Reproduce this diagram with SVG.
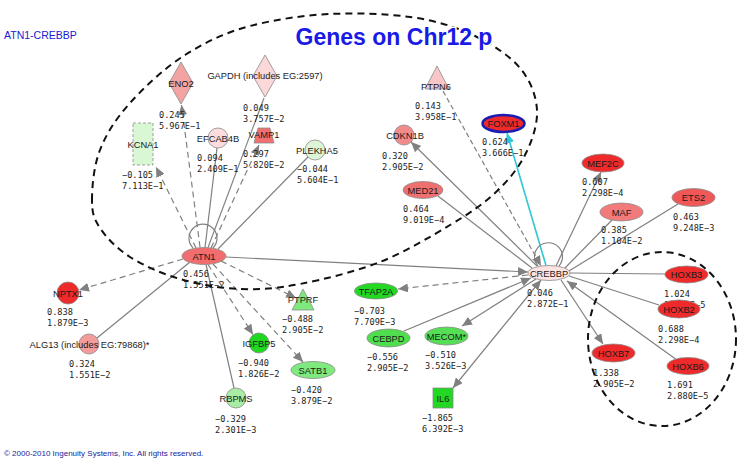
<svg xmlns="http://www.w3.org/2000/svg" width="743" height="466" viewBox="0 0 743 466">
<style>
.lbl{font-family:"Liberation Sans",Arial,sans-serif;font-size:9.3px;fill:#1a1a1a;text-anchor:middle}
.val{font-family:"DejaVu Sans Mono",monospace;font-size:8.6px;fill:#222}
.n{stroke:#8a8a8a;stroke-width:0.8}
.e{stroke:#808080;stroke-width:1.2;fill:none}
.d{stroke-dasharray:6 4}
.grp{fill:none;stroke:#111;stroke-width:2;stroke-dasharray:7 5}
</style>
<defs>
<marker id="ah" viewBox="0 0 10 9" refX="10" refY="4.5" markerWidth="10" markerHeight="9" markerUnits="userSpaceOnUse" orient="auto-start-reverse"><path d="M0,0 L10,4.5 L0,9 z" fill="#808080"/></marker>
<marker id="ahc" viewBox="0 0 10 9" refX="10" refY="4.5" markerWidth="10" markerHeight="9" markerUnits="userSpaceOnUse" orient="auto"><path d="M0,0 L10,4.5 L0,9 z" fill="#2cc8d8"/></marker>
</defs>
<rect width="743" height="466" fill="#fff"/>
<text x="4" y="39" font-family="Liberation Sans,Arial,sans-serif" font-size="10.5" fill="#2020d0">ATN1-CREBBP</text>

<g id="connectors">
<path class="e d" d="M200,247 L181.5,105" marker-end="url(#ah)"/>
<path class="e" d="M208,247.5 L264,98"/>
<path class="e" d="M205,247.5 L217,148"/>
<path class="e d" d="M211,248 L259,145" marker-end="url(#ah)"/>
<path class="e d" d="M196,248 L156,167" marker-end="url(#ah)"/>
<path class="e" d="M218,249 L308,157"/>
<path class="e d" d="M183,259 L79,290" marker-end="url(#ah)"/>
<path class="e" d="M190,262 L97,338"/>
<path class="e d" d="M208,264.5 L253,334.5" marker-end="url(#ah)"/>
<path class="e d" d="M213,264 L303,362" marker-end="url(#ah)"/>
<path class="e d" d="M221,261 L296,298" marker-end="url(#ah)"/>
<path class="e" d="M206,264.5 L234,388"/>
<path class="e" d="M226,257 L528,272" marker-end="url(#ah)"/>
<path class="e" d="M193,248 A14,14 0 1 1 213,248"/>
<path d="M546,265.5 L507,133" stroke="#2cc8d8" stroke-width="1.6" fill="none" marker-end="url(#ahc)"/>
<path class="e" d="M537,266 L411,142" marker-end="url(#ah)"/>
<path class="e" d="M443,91 L541,266" stroke-width="1" stroke-dasharray="5 3" marker-end="url(#ah)"/>
<path class="e" d="M438,196 L532,268"/>
<path class="e" d="M556,266 L601,172" marker-end="url(#ah)"/>
<path class="e" d="M612,220 L565,268"/>
<path class="e" d="M678,204 L569,271"/>
<path class="e d" d="M528,275 L398,289" marker-end="url(#ah)"/>
<path class="e" d="M404,331 L531,278" marker-end="url(#ah)"/>
<path class="e" d="M536,279 L462,326" marker-end="url(#ah)"/>
<path class="e" d="M453,388 L541,280" marker-start="url(#ah)" marker-end="url(#ah)"/>
<path class="e" d="M570,273 L665,274"/>
<path class="e" d="M569,276 L659,305"/>
<path class="e" d="M677,360 L567,281" marker-end="url(#ah)"/>
<path class="e" d="M561,280 L603,344" marker-end="url(#ah)"/>
<path class="e" d="M538,266 A14,14 0 1 1 559,266"/>
</g>

<g id="ATN1"><ellipse class="n" cx="204" cy="256" rx="22" ry="8.5" fill="#f26d6d"/><text class="lbl" x="204" y="259.5">ATN1</text><text class="val" x="183" y="277">0.456<tspan x="183" dy="11">1.551E−2</tspan></text></g>
<g id="ENO2"><polygon class="n" points="181,62 193,83 181,104 169,83" fill="#f4a3a3"/><text class="lbl" x="181" y="86.5">ENO2</text><text class="val" x="159" y="118">0.245<tspan x="159" dy="11">5.967E−1</tspan></text></g>
<g id="GAPDH"><polygon class="n" points="265,55 277,76 265,97 253,76" fill="#fbd9d9"/><text class="lbl" x="265" y="78.5">GAPDH (includes EG:2597)</text><text class="val" x="243" y="111">0.049<tspan x="243" dy="11">3.757E−2</tspan></text></g>
<g id="EFCAB4B"><circle class="n" cx="218" cy="138" r="10" fill="#fcdcdc"/><text class="lbl" x="218" y="141.5">EFCAB4B</text><text class="val" x="197" y="161">0.094<tspan x="197" dy="11">2.409E−1</tspan></text></g>
<g id="VAMP1"><polygon class="n" points="258,128 270,128 274,143 254,143" fill="#f26f6f"/><text class="lbl" x="264" y="138">VAMP1</text><text class="val" x="243" y="157">0.297<tspan x="243" dy="11">5.820E−2</tspan></text></g>
<g id="KCNA1"><rect x="133" y="123" width="20" height="42" fill="#daf7d5" stroke="#8a8a8a" stroke-width="0.8" stroke-dasharray="3 2"/><text class="lbl" x="143" y="148">KCNA1</text><text class="val" x="122" y="178">−0.105<tspan x="122" dy="11">7.113E−1</tspan></text></g>
<g id="PLEKHA5"><circle class="n" cx="315" cy="150" r="10" fill="#dcf5d6"/><text class="lbl" x="317" y="153.5">PLEKHA5</text><text class="val" x="297" y="172">−0.044<tspan x="297" dy="11">5.604E−1</tspan></text></g>
<g id="NPTX1"><circle class="n" cx="68" cy="293" r="11" fill="#ee2a2a"/><text class="lbl" x="68" y="296.5">NPTX1</text><text class="val" x="47" y="315">0.838<tspan x="47" dy="11">1.879E−3</tspan></text></g>
<g id="ALG13"><circle class="n" cx="89" cy="344" r="10" fill="#f49b9b"/><text class="lbl" x="89.5" y="347.5">ALG13 (includes EG:79868)*</text><text class="val" x="69" y="367">0.324<tspan x="69" dy="11">1.551E−2</tspan></text></g>
<g id="IGFBP5"><circle class="n" cx="259" cy="343" r="10" fill="#21d821"/><text class="lbl" x="259" y="346.5">IGFBP5</text><text class="val" x="238" y="366">−0.940<tspan x="238" dy="11">1.826E−2</tspan></text></g>
<g id="SATB1"><ellipse class="n" cx="313" cy="370" rx="22" ry="8.5" fill="#7ee97e"/><text class="lbl" x="313" y="373.5">SATB1</text><text class="val" x="291" y="393">−0.420<tspan x="291" dy="11">3.879E−2</tspan></text></g>
<g id="PTPRF"><polygon class="n" points="303,289 314,310 292,310" fill="#7ee97e"/><text class="lbl" x="303" y="303">PTPRF</text><text class="val" x="282" y="322">−0.488<tspan x="282" dy="11">2.905E−2</tspan></text></g>
<g id="RBPMS"><circle class="n" cx="236" cy="398" r="10" fill="#a8eda3"/><text class="lbl" x="236" y="401.5">RBPMS</text><text class="val" x="215" y="422">−0.329<tspan x="215" dy="11">2.301E−3</tspan></text></g>
<g id="CREBBP"><ellipse class="n" cx="549" cy="273" rx="21" ry="7.5" fill="#fde2e2"/><text class="lbl" x="549" y="276.5">CREBBP</text><text class="val" x="527" y="296">0.046<tspan x="527" dy="11">2.872E−1</tspan></text></g>
<g id="FOXM1"><ellipse cx="503.5" cy="123.5" rx="21" ry="8.5" fill="#ee2a2a" stroke="#1c1cb4" stroke-width="2.5"/><text class="lbl" x="503.5" y="127">FOXM1</text><text class="val" x="482" y="145">0.624<tspan x="482" dy="11">3.666E−1</tspan></text></g>
<g id="CDKN1B"><circle class="n" cx="404" cy="135" r="10" fill="#f28c8c"/><text class="lbl" x="405" y="138.5">CDKN1B</text><text class="val" x="382" y="159">0.320<tspan x="382" dy="11">2.905E−2</tspan></text></g>
<g id="PTPN6"><polygon class="n" points="437,66 449,89 425,89" fill="#f8c6c6"/><text class="lbl" x="436" y="89.5">PTPN6</text><text class="val" x="415" y="109">0.143<tspan x="415" dy="10.5">3.958E−1</tspan></text></g>
<g id="MED21"><ellipse class="n" cx="423" cy="190" rx="20" ry="8.5" fill="#f07070"/><text class="lbl" x="423" y="193.5">MED21</text><text class="val" x="403" y="212">0.464<tspan x="403" dy="10.5">9.019E−4</tspan></text></g>
<g id="MEF2C"><ellipse class="n" cx="603" cy="163" rx="21" ry="9" fill="#ee2a2a"/><text class="lbl" x="603" y="166.5">MEF2C</text><text class="val" x="582" y="185">0.607<tspan x="582" dy="11">2.298E−4</tspan></text></g>
<g id="MAF"><ellipse class="n" cx="621.5" cy="212" rx="21.5" ry="9" fill="#f27a7a"/><text class="lbl" x="621.5" y="215.5">MAF</text><text class="val" x="601" y="233">0.385<tspan x="601" dy="11">1.104E−2</tspan></text></g>
<g id="ETS2"><ellipse class="n" cx="693.5" cy="197.5" rx="21.5" ry="9" fill="#f05858"/><text class="lbl" x="693.5" y="201">ETS2</text><text class="val" x="673" y="220">0.463<tspan x="673" dy="11">9.248E−3</tspan></text></g>
<g id="TFAP2A"><ellipse class="n" cx="376" cy="291" rx="21.5" ry="8" fill="#22d822"/><text class="lbl" x="376" y="294.5">TFAP2A</text><text class="val" x="354" y="314">−0.703<tspan x="354" dy="10.5">7.709E−3</tspan></text></g>
<g id="CEBPD"><ellipse class="n" cx="388.5" cy="338" rx="21.5" ry="9" fill="#4ede4e"/><text class="lbl" x="388.5" y="341.5">CEBPD</text><text class="val" x="367" y="360">−0.556<tspan x="367" dy="11">2.905E−2</tspan></text></g>
<g id="MECOM"><ellipse class="n" cx="446.5" cy="336" rx="21.5" ry="9" fill="#55df55"/><text class="lbl" x="446.5" y="339.5">MECOM*</text><text class="val" x="425" y="358">−0.510<tspan x="425" dy="11">3.526E−3</tspan></text></g>
<g id="IL6"><rect class="n" x="433" y="388" width="20" height="20" fill="#22d822"/><text class="lbl" x="443" y="401.5">IL6</text><text class="val" x="422" y="421">−1.865<tspan x="422" dy="11">6.392E−3</tspan></text></g>
<g id="HOXB3"><ellipse class="n" cx="686.5" cy="274.5" rx="21.5" ry="8.5" fill="#ee2a2a"/><text class="lbl" x="686.5" y="278">HOXB3</text><text class="val" x="664" y="297">1.024<tspan x="664" dy="10.5">1.879E−5</tspan></text></g>
<g id="HOXB2"><ellipse class="n" cx="679" cy="309" rx="21" ry="9" fill="#ee2a2a"/><text class="lbl" x="679" y="312.5">HOXB2</text><text class="val" x="658" y="332">0.688<tspan x="658" dy="11">2.298E−4</tspan></text></g>
<g id="HOXB7"><ellipse class="n" cx="613.5" cy="353" rx="21.5" ry="9" fill="#ee2a2a"/><text class="lbl" x="613.5" y="356.5">HOXB7</text><text class="val" x="593" y="376">1.338<tspan x="593" dy="11">2.905E−2</tspan></text></g>
<g id="HOXB6"><ellipse class="n" cx="688" cy="366" rx="21" ry="8.5" fill="#ee2a2a"/><text class="lbl" x="688" y="369.5">HOXB6</text><text class="val" x="667" y="388">1.691<tspan x="667" dy="11">2.880E−5</tspan></text></g>

<g id="groups">
<path class="grp" d="M92,200 C92,187 93.7,166.2 100,150 C106.3,133.8 115.8,118.8 130,103 C144.2,87.2 165,67.7 185,55 C205,42.3 225.8,32.3 250,26 C274.2,19.7 303.3,15.2 330,14 C356.7,12.8 385.8,13.7 410,17 C434.2,20.3 456.7,27 475,36 C493.3,45 509.7,55.8 520,68 C530.3,80.2 536.2,95.5 537,110 C537.8,124.5 532,141.2 525,155 C518,168.8 507.5,181.3 495,193 C482.5,204.7 469.2,213.5 450,225 C430.8,236.5 405,252.2 380,262 C355,271.8 323.3,279.5 300,284 C276.7,288.5 260,289.8 240,289 C220,288.2 198.3,284.3 180,279 C161.7,273.7 143.3,265.5 130,257 C116.7,248.5 106.3,237.5 100,228 C93.7,218.5 92,213 92,200 Z"/>
<ellipse class="grp" cx="662" cy="339" rx="74" ry="87"/>
</g>
<text x="394" y="45" font-family="Liberation Sans,Arial,sans-serif" font-size="23" font-weight="bold" fill="#1a1ae6" text-anchor="middle" stroke="#fff" stroke-width="3" paint-order="stroke">Genes on Chr12 p</text>
<text x="4" y="456" font-family="Liberation Sans,Arial,sans-serif" font-size="8" fill="#1a1a9a">© 2000-2010 Ingenuity Systems, Inc. All rights reserved.</text>
</svg>
